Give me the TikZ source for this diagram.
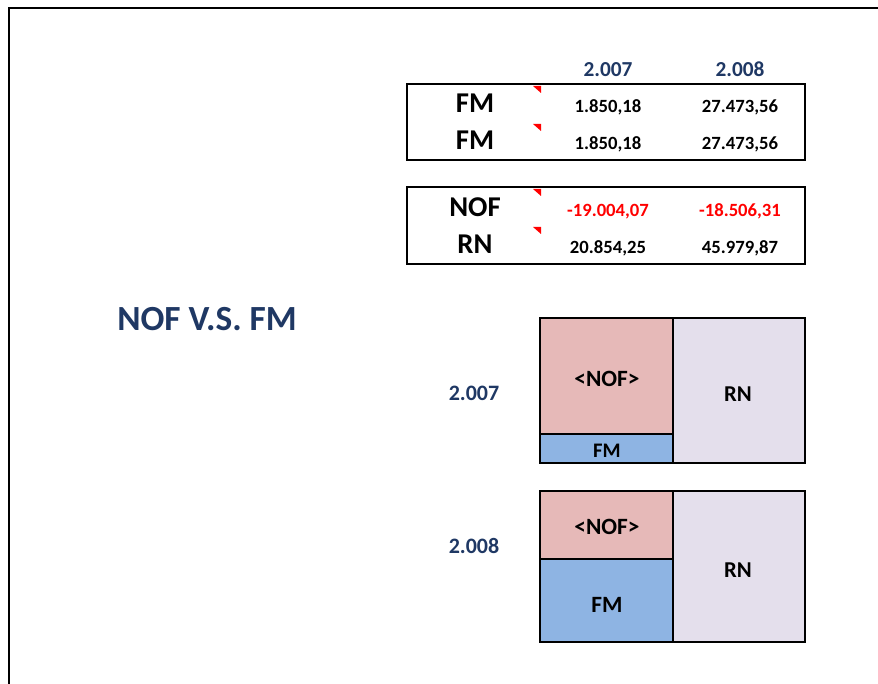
\documentclass[tikz,border=0pt]{standalone}
\usepackage{fontspec}
\setmainfont{Carlito}
\definecolor{navy}{HTML}{1F3864}
\definecolor{nofc}{HTML}{E6B9B8}
\definecolor{fmc}{HTML}{8EB4E3}
\definecolor{rnc}{HTML}{E4DFEC}
\newcommand{\fs}[1]{\fontsize{#1}{#1}\selectfont\bfseries}
\begin{document}
\begin{tikzpicture}[
 x=.75pt,y=-.75pt,
 frame/.style={line width=2.2pt},
 box/.style={draw,line width=2pt},
 cell/.style={draw,line width=2pt},
 flag/.style={fill=red},
 every node/.style={inner sep=0pt,anchor=base}]
 \useasboundingbox (0,0) rectangle (878,684);
 % Sheet border, open at the right and at the bottom.
 \draw[frame] (878,8) -- (9,8) -- (9,684);
 % Figures table.
 \node[font=\fs{16},text=navy] (yrA) at (608,77) {2.007};
 \node[font=\fs{16},text=navy] (yrB) at (740,77) {2.008};
 \draw[box] (407,84) rectangle (805,160);
 \draw[box] (407,187) rectangle (805,264);
 \foreach \i/\y/\lab/\va/\vb/\col in {1/113/FM/{1.850,18}/{27.473,56}/black,
   2/150/FM/{1.850,18}/{27.473,56}/black,
   3/217/NOF/{-19.004,07}/{-18.506,31}/red,
   4/254/RN/{20.854,25}/{45.979,87}/black}{
  \node[font=\fs{21.5}] (lab\i) at (475,\y) {\lab};
  \node[font=\fs{14},text=\col] (va\i) at (608,\y) {\va};
  \node[font=\fs{14},text=\col] (vb\i) at (740,\y) {\vb};
 }
 \foreach \y in {86,124,189,227}{
  \fill[flag] (533,\y) -- (541,\y) -- (541,\y+7) -- cycle;
 }
 % Title.
 \node[font=\fs{26.5},text=navy,anchor=base west] (title) at (117,330) {NOF V.S. FM};
 % Chart for 2.007.
 \node[font=\fs{16.5},text=navy] (chA) at (474,400) {2.007};
 \draw[cell,fill=nofc] (540,318) rectangle (673,434);
 \draw[cell,fill=fmc] (540,434) rectangle (673,463);
 \draw[cell,fill=rnc] (673,318) rectangle (805,463);
 \node[font=\fs{17.5}] (nofA) at (607,386) {<NOF>};
 \node[font=\fs{15.5}] (fmA) at (607,457) {FM};
 \node[font=\fs{17}] (rnA) at (738,401) {RN};
 % Chart for 2.008.
 \node[font=\fs{16.5},text=navy] (chB) at (474,553) {2.008};
 \draw[cell,fill=nofc] (540,491) rectangle (673,559);
 \draw[cell,fill=fmc] (540,559) rectangle (673,642);
 \draw[cell,fill=rnc] (673,491) rectangle (805,642);
 \node[font=\fs{17.5}] (nofB) at (607,534) {<NOF>};
 \node[font=\fs{17.5}] (fmB) at (607,612) {FM};
 \node[font=\fs{17}] (rnB) at (738,577) {RN};
\end{tikzpicture}
\end{document}
